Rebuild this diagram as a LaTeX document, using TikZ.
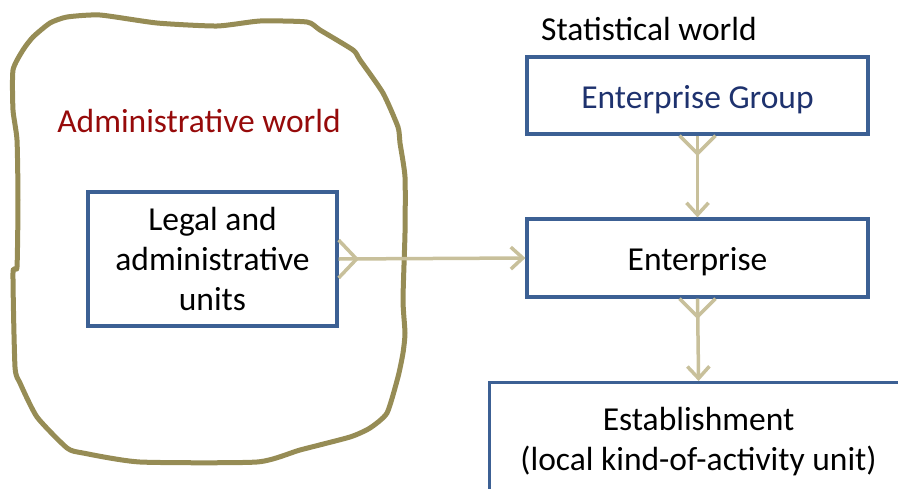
\documentclass[tikz,border=0pt]{standalone}
\usepackage{fontspec}
\setmainfont{Carlito}
\usepackage{xcolor}
\usepackage{tikz}
\usetikzlibrary{positioning, arrows.meta, calc}
\definecolor{UnitBlue}{RGB}{60,96,148}
\definecolor{LinkTan}{RGB}{200,192,155}
\definecolor{WorldOlive}{RGB}{150,140,85}
\definecolor{AdminRed}{RGB}{150,10,10}
\definecolor{GroupNavy}{RGB}{30,50,110}
\newcommand{\lowtext}[1]{\raisebox{-4pt}[\height][\depth]{#1}}

\begin{document}
\begin{tikzpicture}[x=1pt, y=-1pt,
    unit/.style={draw=UnitBlue, line width=3.2pt, align=center, inner sep=0pt,
      font=\fontsize{33.5}{40}\selectfont},
    link/.style={draw=LinkTan, line width=3.5pt},
    tip/.style={link, -{Straight Barb[length=12pt, width=22pt]}},
    label/.style={font=\fontsize{33.5}{40}\selectfont, inner sep=0pt}]
  \useasboundingbox (0,0) rectangle (898,488);
  \clip (0,0) rectangle (898,488);

  % hand-drawn outline of the administrative side
  \draw[WorldOlive, line width=5pt, line join=round] plot[smooth cycle, tension=0.35] coordinates {
    (67,17) (100,15) (157,23) (217,26) (260,21) (307,22) (320,30) (353,50)
    (360,60) (383,93) (398,127) (400,143) (405,177) (405,233) (403,300)
    (405,333) (403,353) (398,377) (387,413) (370,428) (350,437) (300,450)
    (257,462) (140,462) (83,453) (67,448) (37,417) (20,383) (15,367)
    (13,273) (17,267) (18,200) (17,140) (13,110) (13,70) (23,50) (33,37) (50,23)};

  \node[label, text=AdminRed] (admin) at (199,121) {Administrative world};
  \node[label, anchor=west] (stat) at (541,29) {Statistical world};

  % units
  \node[unit, minimum width=249pt, minimum height=134pt] (legal) at (212.5,259)
    {Legal and\\administrative\\units};
  \node[unit, minimum width=341pt, minimum height=77pt, text=GroupNavy] (group) at (697.5,95.5)
    {\lowtext{Enterprise Group}};
  \node[unit, minimum width=341pt, minimum height=78pt] (ent) at (697.5,258)
    {\lowtext{Enterprise}};
  \node[unit, minimum width=418pt, minimum height=118pt, anchor=north west] (estab) at (488,381)
    {Establishment\\(local kind-of-activity unit)};

  % links with a fork at the source end
  \draw[tip] (legal.east) -- (ent.west);
  \draw[link] ($(legal.east)+(0,-19)$) -- ++(18,19) -- ++(-18,19);

  \draw[tip] (group.south) -- (ent.north);
  \draw[link] ($(group.south)+(-18,0)$) -- ++(18,18) -- ++(18,-18);

  \draw[tip] (ent.south) -- (estab.north);
  \draw[link] ($(ent.south)+(-18,0)$) -- ++(18,18) -- ++(18,-18);
\end{tikzpicture}
\end{document}
